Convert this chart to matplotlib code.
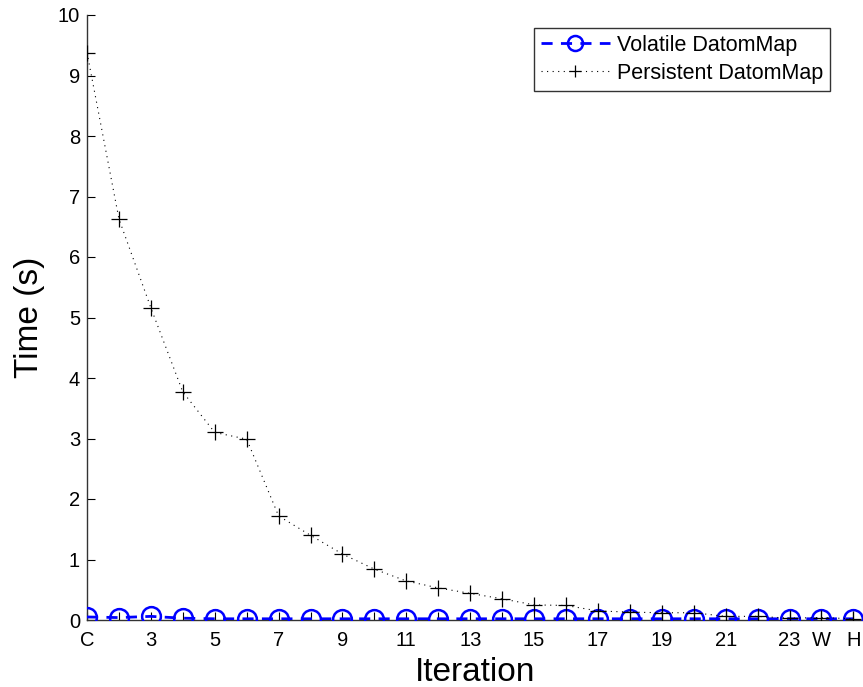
import numpy as np
import matplotlib
matplotlib.use('Agg')
import matplotlib.pyplot as plt

# 데이터
iterations = list(range(1, 26))
tick_labels = ['C', '', '3', '', '5', '', '7', '', '9', '', '11', '', '13', '', '15', '',
               '17', '', '19', '', '21', '', '23', 'W', 'H']
volatile = [0.05, 0.04, 0.06, 0.03, 0.02, 0.02, 0.02, 0.02, 0.02, 0.02, 0.02, 0.02, 0.02,
            0.02, 0.02, 0.02, 0.02, 0.02, 0.02, 0.02, 0.02, 0.02, 0.02, 0.02, 0.02]
persistent = [9.38, 6.63, 5.16, 3.77, 3.10, 2.99, 1.72, 1.40, 1.09, 0.84, 0.645, 0.53, 0.44,
              0.35, 0.25, 0.24, 0.15, 0.13, 0.12, 0.12, 0.06, 0.06, 0.03, 0.04, 0.02]

plt.rcParams['font.family'] = ['Liberation Sans', 'DejaVu Sans']

fig = plt.figure(figsize=(8.63, 6.87), dpi=100)
ax = fig.add_axes([87 / 863, 67 / 687, 776 / 863, 605 / 687])

ax.plot(iterations, volatile, linestyle=(0, (4, 3)), color='#0000ff', linewidth=2.0,
        marker='o', markersize=13.5, markerfacecolor='none', markeredgewidth=1.8,
        label='Volatile DatomMap', zorder=3)
ax.plot(iterations, persistent, linestyle=(0, (1, 4)), color='black', linewidth=0.8,
        marker='+', markersize=11, markeredgewidth=0.9,
        label='Persistent DatomMap', zorder=4)

ax.set_xlim(1, 25.3)
ax.set_ylim(0, 10)
ax.set_xticks(iterations)
ax.set_xticklabels(tick_labels)
ax.set_yticks(range(0, 11))

for side in ['top', 'right']:
    ax.spines[side].set_visible(False)
for side in ['left', 'bottom']:
    ax.spines[side].set_color('#333333')
    ax.spines[side].set_linewidth(1.0)

ax.tick_params(direction='in', length=6, width=0.8, labelsize=14.5, colors='black')
ax.tick_params(axis='x', pad=8)
ax.tick_params(axis='y', pad=5)

ax.set_xlabel('Iteration', fontsize=24, labelpad=5)
ax.set_ylabel('Time (s)', fontsize=24, labelpad=9)

leg = ax.legend(loc='upper left', bbox_to_anchor=(447 / 776, 1 - 13 / 605), fontsize=15.5,
                frameon=True, fancybox=False, edgecolor='black', handlelength=3.2,
                borderpad=0.32, labelspacing=0.32, handletextpad=0.35, borderaxespad=0.0,
                markerscale=0.8)
leg.get_frame().set_linewidth(1.0)

fig.savefig('out.png', dpi=100)
